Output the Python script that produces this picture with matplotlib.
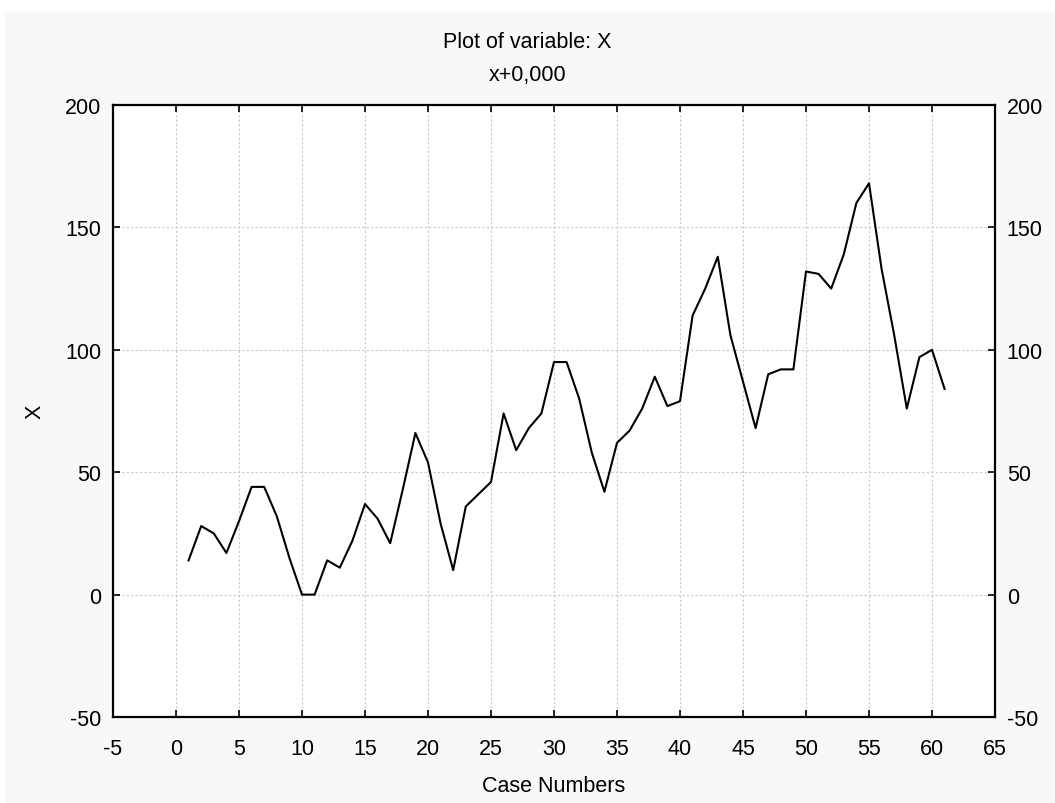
import matplotlib
matplotlib.use('Agg')
import matplotlib.pyplot as plt
from matplotlib.patches import Rectangle
import numpy as np

# case numbers and values of variable X
cases = list(range(1, 62))
x_values = [14, 28, 25, 17, 30, 44, 44, 32, 15, 0,
            0, 14, 11, 22, 37, 31, 21, 43, 66, 54,
            29, 10, 36, 41, 46, 74, 59, 68, 74, 95,
            95, 80, 58, 42, 62, 67, 76, 89, 77, 79,
            114, 125, 138, 106, 87, 68, 90, 92, 92, 132,
            131, 125, 139, 160, 168, 133, 106, 76, 97, 100,
            84]

xticks = np.arange(-5, 66, 5)
yticks = np.arange(-50, 201, 50)

plt.rcParams['font.family'] = ['Liberation Sans', 'DejaVu Sans']
plt.rcParams['axes.unicode_minus'] = False
fontsize = 15.5

fig = plt.figure(figsize=(10.55, 8.04), dpi=100, facecolor='white')
# grey panel behind the chart (thin white strip at the top and left)
fig.patches.append(Rectangle((5 / 1055, -0.01), 1.1, 1.01 - 14 / 804,
                             transform=fig.transFigure, color='#f8f8f8',
                             zorder=-10))

ax = fig.add_axes([113 / 1055, 86 / 804, 882 / 1055, 612 / 804])
ax.set_facecolor('white')

ax.plot(cases, x_values, color='black', lw=1.5)

ax.set(xlim=[-5, 65], ylim=[-50, 200], xticks=xticks, yticks=yticks)
ax.grid(True, color='#c8c8c8', ls=(0, (2, 2)), lw=0.8)

ax.tick_params(direction='in', length=5, width=1.2, labelsize=fontsize,
               top=True, right=True, labelright=True)
ax.tick_params(axis='x', pad=15)
ax.tick_params(axis='y', pad=8.5)
for sp in ax.spines.values():
    sp.set_linewidth(1.6)

ax.set_xlabel('Case Numbers', fontsize=fontsize, va='center')
ax.xaxis.set_label_coords(0.5, (718 - 787) / 612)
ax.set_ylabel('X', fontsize=fontsize, va='center')
ax.yaxis.set_label_coords((35 - 113) / 882, 0.5)

fig.text(0.5, 1 - 42 / 804, 'Plot of variable: X', ha='center',
         va='center', fontsize=fontsize)
fig.text(0.5, 1 - 76 / 804, 'x+0,000', ha='center', va='center',
         fontsize=fontsize)

plt.savefig('out.png', dpi=100)
